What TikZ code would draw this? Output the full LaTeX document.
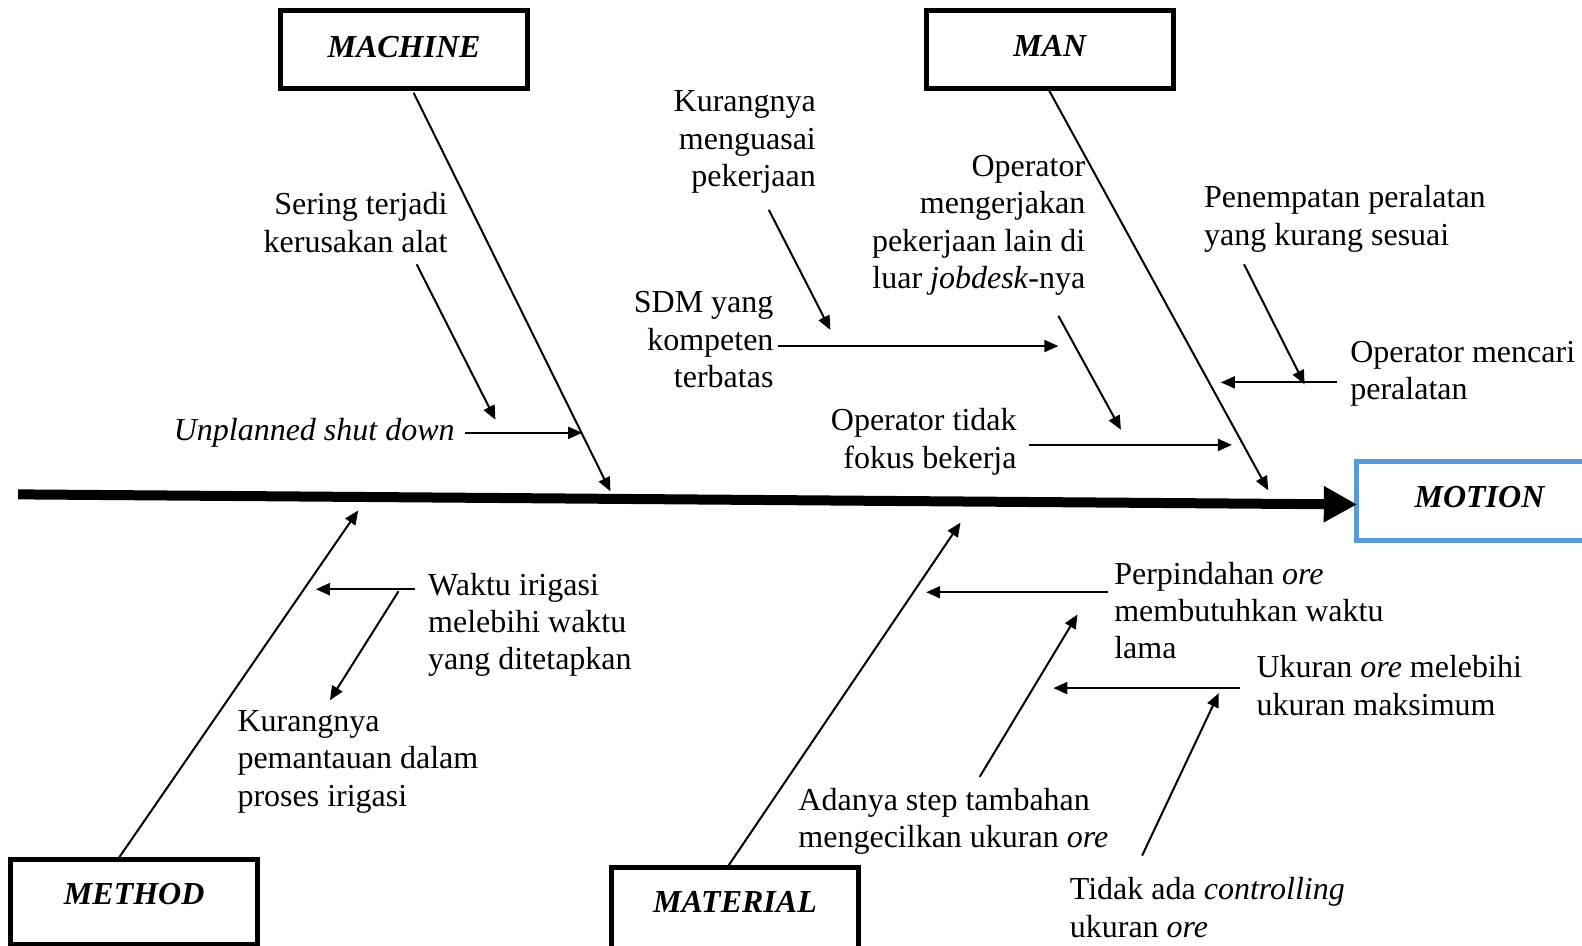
\documentclass[tikz,border=0pt]{standalone}
\usepackage{fontspec}
\setmainfont{Liberation Serif}
\usetikzlibrary{arrows.meta}
\definecolor{motionblue}{HTML}{5B9BD5}
\tikzset{
  txt/.style={inner sep=0pt, font=\fontsize{16}{18.7}\selectfont},
  cat/.style={draw, line width=2.5pt, minimum width=123.6pt, minimum height=39.4pt, inner sep=0pt, font=\fontsize{16}{18.7}\selectfont\bfseries\itshape},
  arr/.style={-{Triangle[length=7pt,width=6pt]}, line width=1pt},
  spine/.style={-{Triangle[length=16.6pt,width=17pt]}, line width=5pt}
}
\begin{document}
\begin{tikzpicture}[x=0.5045pt,y=-0.5045pt]
\useasboundingbox (0,0) rectangle (1568,937);
% category boxes
\node[cat] (machine) at (400.5,49) {\raisebox{3pt}{MACHINE}};
\node[cat] (man) at (1040.5,49) {\raisebox{3pt}{MAN}};
\node[cat, minimum height=42.9pt] (method) at (133,894) {\raisebox{8pt}{METHOD}};
\node[cat, minimum height=42pt] (material) at (728.5,901) {\raisebox{7pt}{MATERIAL}};
\node[cat, draw=motionblue, minimum width=118pt, anchor=west] (motion) at (1342,496.5) {\hspace*{5pt}\raisebox{4.5pt}{MOTION}};
% spine
\coordinate (sp0) at (18,490);
\coordinate (sp1) at (1345,500);
\draw[spine] (sp0) -- (sp1);
% bones
\coordinate (mcs) at (410,92);  \coordinate (mce) at (605,487);
\coordinate (mns) at (1040,90); \coordinate (mne) at (1257,486);
\coordinate (mts) at (118,850); \coordinate (mte) at (355,506);
\coordinate (mls) at (722,858); \coordinate (mle) at (952,518);
\draw[arr] (mcs) -- (mce);
\draw[arr] (mns) -- (mne);
\draw[arr] (mts) -- (mte);
\draw[arr] (mls) -- (mle);
% texts (base anchor = baseline of the last line)
\node[txt, align=right, anchor=base east] (t1) at (444,250) {Sering terjadi\\kerusakan alat};
\node[txt, anchor=base east] (t2) at (451,437) {\itshape Unplanned shut down};
\node[txt, align=right, anchor=base east] (t3) at (809,185) {Kurangnya\\menguasai\\pekerjaan};
\node[txt, align=right, anchor=base east] (t4) at (767,384) {SDM yang\\kompeten\\terbatas};
\node[txt, align=right, anchor=base east] (t5) at (1076,286) {Operator\\mengerjakan\\pekerjaan lain di\\luar \textit{jobdesk}-nya};
\node[txt, align=right, anchor=base east] (t6) at (1008,464) {Operator tidak\\fokus bekerja};
\node[txt, align=left, anchor=base west] (t7) at (1193,243) {Penempatan peralatan\\yang kurang sesuai};
\node[txt, align=left, anchor=base west] (t8) at (1338,396) {Operator mencari\\peralatan};
\node[txt, align=left, anchor=base west] (t9) at (424,664) {Waktu irigasi\\melebihi waktu\\yang ditetapkan};
\node[txt, align=left, anchor=base west] (t10) at (235,799) {Kurangnya\\pemantauan dalam\\proses irigasi};
\node[txt, align=left, anchor=base west] (t11) at (1104,653) {Perpindahan \textit{ore}\\membutuhkan waktu\\lama};
\node[txt, align=left, anchor=base west] (t12) at (1245,709) {Ukuran \textit{ore} melebihi\\ukuran maksimum};
\node[txt, align=left, anchor=base west] (t13) at (791,840) {Adanya step tambahan\\mengecilkan ukuran \textit{ore}};
\node[txt, align=left, anchor=base west] (t14) at (1060,929) {Tidak ada \textit{controlling}\\ukuran \textit{ore}};
% sub-arrows
\coordinate (a1s) at (413,262);  \coordinate (a1e) at (491,416);
\coordinate (a2s) at (461,429);  \coordinate (a2e) at (577,429);
\coordinate (a3s) at (762,208);  \coordinate (a3e) at (823,327);
\coordinate (a4s) at (771,343);  \coordinate (a4e) at (1049,343);
\coordinate (a5s) at (1049,313); \coordinate (a5e) at (1111,426);
\coordinate (a6s) at (1020,441); \coordinate (a6e) at (1221,441);
\coordinate (a7s) at (1233,262); \coordinate (a7e) at (1293,381);
\coordinate (a8s) at (1325,379); \coordinate (a8e) at (1210,379);
\coordinate (a9s) at (411,584);  \coordinate (a9e) at (313,584);
\coordinate (a10s) at (395,586); \coordinate (a10e) at (327,694);
\coordinate (a11s) at (1098,587); \coordinate (a11e) at (918,587);
\coordinate (a12s) at (1229,682); \coordinate (a12e) at (1044,682);
\coordinate (a13s) at (971,770); \coordinate (a13e) at (1068,609);
\coordinate (a14s) at (1132,848); \coordinate (a14e) at (1208,687);
\foreach \i in {1,...,14}{\draw[arr] (a\i s) -- (a\i e);}
\end{tikzpicture}
\end{document}
